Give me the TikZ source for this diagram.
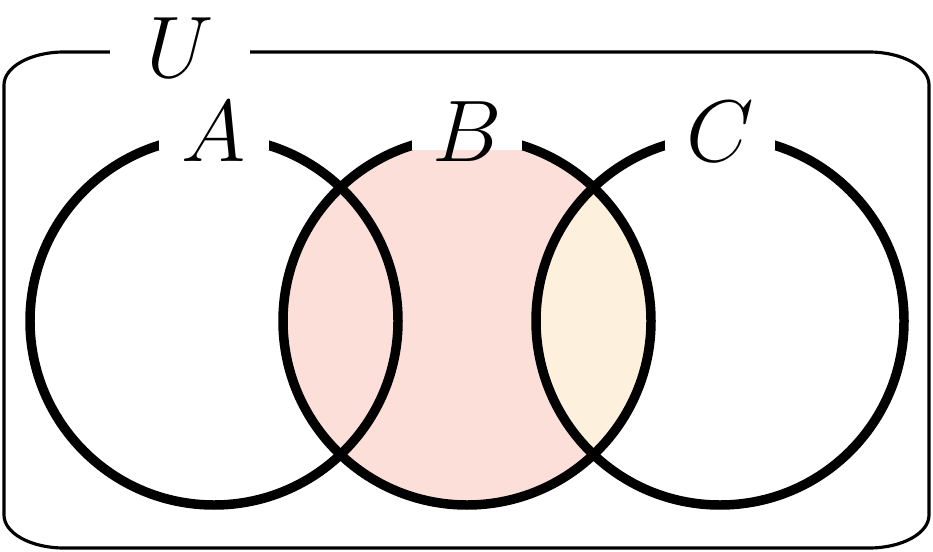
\documentclass[tikz,border=0pt]{standalone}
\definecolor{pinkB}{RGB}{252,223,217}
\definecolor{creamBC}{RGB}{253,241,221}
\newcommand{\droplbl}[1]{\raisebox{-0.11cm}[0pt][0pt]{#1}}
\tikzset{
  setcirc/.style={draw, circle, minimum size=3.68cm, line width=2.7pt, inner sep=0pt},
  setlbl/.style={fill=white, anchor=south, inner sep=0pt, minimum width=1.1cm,
    text height=0.6cm, text depth=0pt, font=\fontsize{27.5pt}{33pt}\selectfont},
}
\begin{document}
\begin{tikzpicture}
\useasboundingbox (0,0) rectangle (9.33,5.51);
% universe
\path[draw,line width=0.9pt] (0.64,4.99) -- (8.69,4.99)
  arc[start angle=90, end angle=0, x radius=0.6, y radius=0.33] -- (9.29,0.36)
  arc[start angle=0, end angle=-90, x radius=0.6, y radius=0.33] -- (0.64,0.03)
  arc[start angle=-90, end angle=-180, x radius=0.6, y radius=0.33] -- (0.04,4.66)
  arc[start angle=180, end angle=90, x radius=0.6, y radius=0.33] -- cycle;
\node[setlbl, minimum width=1.4cm, anchor=base, text height=0.7cm] (U) at (1.80,4.73) {$U$};

% shading
\fill[pinkB] (4.67,2.30) circle (1.84);
\begin{scope}
\clip (7.20,2.30) circle (1.84);
\fill[creamBC] (4.67,2.30) circle (1.84);
\end{scope}

% sets
\node[setcirc] (A) at (2.14,2.30) {};
\node[setcirc] (B) at (4.67,2.30) {};
\node[setcirc] (C) at (7.20,2.30) {};

\node[setlbl] (labA) at (2.14,4.00) {\droplbl{$A$}};
\node[setlbl] (labB) at (4.67,4.00) {\droplbl{$B$}};
\node[setlbl] (labC) at (7.20,4.00) {\droplbl{$C$}};
\end{tikzpicture}
\end{document}
